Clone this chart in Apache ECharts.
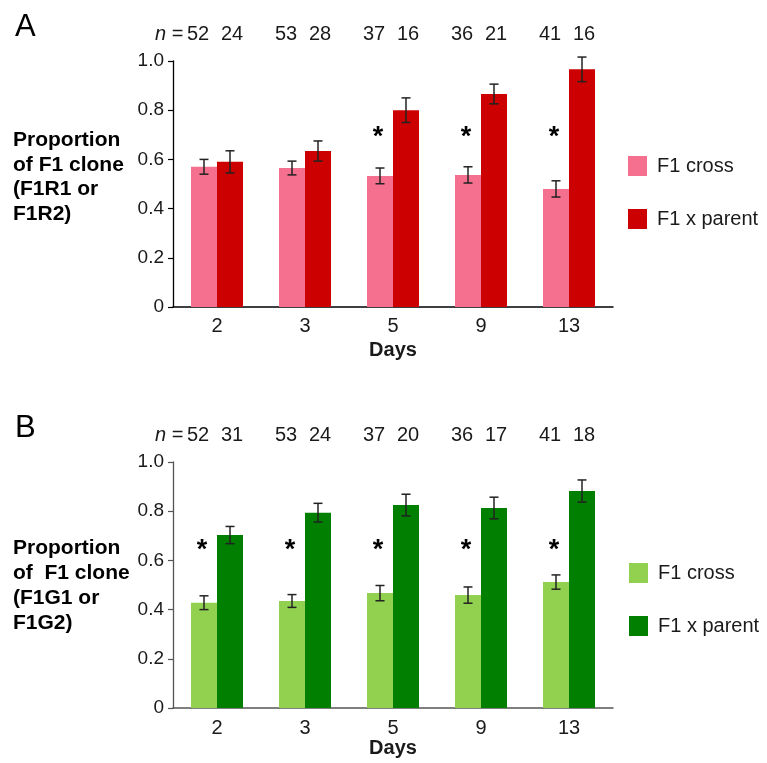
<!DOCTYPE html>
<html>
<head>
<meta charset="utf-8">
<script src="https://cdn.jsdelivr.net/npm/echarts@6/dist/echarts.min.js"></script>
<style>html,body{margin:0;padding:0;background:#fff;}#c{width:767px;height:763px;}</style>
</head>
<body>
<div id="c"></div>
<script>
// ---- data ----
const days = ['2', '3', '5', '9', '13'];
const yTickValues = [0, 0.2, 0.4, 0.6, 0.8, 1.0];

const crossA = [0.570, 0.565, 0.533, 0.537, 0.480];
const crossAErr = [0.030, 0.028, 0.032, 0.033, 0.033];
const parentA = [0.590, 0.634, 0.800, 0.866, 0.966];
const parentAErr = [0.045, 0.041, 0.050, 0.040, 0.050];
const nCrossA = [52, 53, 37, 36, 41];
const nParentA = [24, 28, 16, 21, 16];
const sigA = [0, 0, 1, 1, 1];

const crossB = [0.428, 0.435, 0.467, 0.459, 0.512];
const crossBErr = [0.028, 0.026, 0.031, 0.033, 0.029];
const parentB = [0.703, 0.794, 0.825, 0.813, 0.882];
const parentBErr = [0.035, 0.038, 0.044, 0.044, 0.045];
const nCrossB = [52, 53, 37, 36, 41];
const nParentB = [31, 24, 20, 17, 18];
const sigB = [1, 1, 1, 1, 1];

const starLevelA = 0.69;
const starLevelB = 0.64;

// ---- styling ----
const FONT = '"Liberation Sans", Arial, Helvetica, sans-serif';
const BAR_W = 26;
const TXT = '#1a1a1a';

function errRender(params, api) {
  const i = api.value(0), v = api.value(1), e = api.value(2), side = api.value(3);
  const top = api.coord([i, v + e]);
  const bot = api.coord([i, v - e]);
  const x = top[0] + side * BAR_W / 2;
  const cap = 4.5;
  const st = { stroke: '#222', lineWidth: 1.5 };
  return {
    type: 'group',
    children: [
      { type: 'line', shape: { x1: x, y1: top[1], x2: x, y2: bot[1] }, style: st },
      { type: 'line', shape: { x1: x - cap, y1: top[1], x2: x + cap, y2: top[1] }, style: st },
      { type: 'line', shape: { x1: x - cap, y1: bot[1], x2: x + cap, y2: bot[1] }, style: st }
    ]
  };
}

function nRender(params, api) {
  const i = api.value(0), n = api.value(2), side = api.value(3);
  const c = api.coord([i, 0]);
  return {
    type: 'text',
    x: c[0] + (side < 0 ? -19 : 15),
    y: params.coordSys.y - 27,
    style: { text: String(n), font: '20px ' + FONT, fill: TXT, align: 'center', verticalAlign: 'middle' }
  };
}

function starRender(params, api) {
  const i = api.value(0), lvl = api.value(1);
  const c = api.coord([i, lvl]);
  return {
    type: 'text',
    x: c[0] - BAR_W / 2 - 2,
    y: c[1],
    style: { text: '*', font: 'bold 27px ' + FONT, fill: '#000', align: 'center', verticalAlign: 'middle' }
  };
}

function errData(vals, errs, side) { return vals.map((v, i) => [i, v, errs[i], side]); }
function nData(ns, side) { return ns.map((n, i) => [i, 0, n, side]); }
function starData(sig, lvl) { return sig.map((s, i) => s ? [i, lvl] : null).filter(d => d); }

function xAxis(gridIndex, color, margin, nameGap) {
  return {
    gridIndex, type: 'category', data: days,
    axisLine: { lineStyle: { color, width: 1.5 } },
    axisTick: { show: false },
    axisLabel: { color: TXT, fontSize: 20, fontFamily: FONT, margin },
    name: 'Days', nameLocation: 'middle', nameGap,
    nameTextStyle: { color: TXT, fontSize: 20, fontWeight: 'bold', fontFamily: FONT }
  };
}
function yAxis(gridIndex, color) {
  return {
    gridIndex, type: 'value', min: 0, max: 1, interval: 0.2,
    axisLine: { show: true, lineStyle: { color, width: 1.3 } },
    axisTick: { show: true, length: 5, lineStyle: { color, width: 1.2 } },
    splitLine: { show: false },
    axisLabel: {
      color: TXT, fontSize: 19, fontFamily: FONT, margin: 9,
      formatter: v => (yTickValues.indexOf(+v.toFixed(1)) >= 0 ? (v === 0 ? '0' : v.toFixed(1)) : '')
    }
  };
}

const legendText = { color: TXT, fontSize: 20, fontFamily: FONT, padding: [0, 0, 0, 5] };

const option = {
  animation: false,
  backgroundColor: '#fff',
  grid: [
    { left: 173, top: 61, width: 440, height: 246 },
    { left: 173, top: 462, width: 440, height: 246 }
  ],
  xAxis: [xAxis(0, '#000', 9, 33), xAxis(1, '#555', 10, 28)],
  yAxis: [yAxis(0, '#000'), yAxis(1, '#555')],
  legend: [
    { data: ['A: F1 cross', 'A: F1 x parent'], orient: 'vertical', left: 623, top: 151, itemWidth: 19, itemHeight: 20,
      itemGap: 33, icon: 'rect', textStyle: legendText, formatter: n => n.slice(3), selectedMode: false },
    { data: ['B: F1 cross', 'B: F1 x parent'], orient: 'vertical', left: 624, top: 558, itemWidth: 19, itemHeight: 20,
      itemGap: 33, icon: 'rect', textStyle: legendText, formatter: n => n.slice(3), selectedMode: false }
  ],
  graphic: [
    { type: 'text', left: 15, top: 12, style: { text: 'A', font: '31px ' + FONT, fill: '#000' } },
    { type: 'text', left: 15, top: 413, style: { text: 'B', font: '31px ' + FONT, fill: '#000' } },
    { type: 'text', left: 13, top: 128, style: { text: 'Proportion\nof F1 clone\n(F1R1 or\nF1R2)', font: 'bold 21px ' + FONT, lineHeight: 24.5, fill: '#000' } },
    { type: 'text', left: 13, top: 536, style: { text: 'Proportion\nof  F1 clone\n(F1G1 or\nF1G2)', font: 'bold 21px ' + FONT, lineHeight: 25, fill: '#000' } },
    { type: 'text', left: 155, top: 24, style: { text: '{i|n} =', font: '20px ' + FONT, fill: TXT, rich: { i: { fontStyle: 'italic', fontSize: 20, fontFamily: FONT } } } },
    { type: 'text', left: 155, top: 425, style: { text: '{i|n} =', font: '20px ' + FONT, fill: TXT, rich: { i: { fontStyle: 'italic', fontSize: 20, fontFamily: FONT } } } }
  ],
  series: [
    { name: 'A: F1 cross', type: 'bar', xAxisIndex: 0, yAxisIndex: 0, data: crossA, barWidth: BAR_W, barGap: '0%', itemStyle: { color: '#F56F8E' } },
    { name: 'A: F1 x parent', type: 'bar', xAxisIndex: 0, yAxisIndex: 0, data: parentA, barWidth: BAR_W, barGap: '0%', itemStyle: { color: '#CC0000' } },
    { name: 'B: F1 cross', type: 'bar', xAxisIndex: 1, yAxisIndex: 1, data: crossB, barWidth: BAR_W, barGap: '0%', itemStyle: { color: '#92D050' } },
    { name: 'B: F1 x parent', type: 'bar', xAxisIndex: 1, yAxisIndex: 1, data: parentB, barWidth: BAR_W, barGap: '0%', itemStyle: { color: '#007F00' } },
    { type: 'custom', xAxisIndex: 0, yAxisIndex: 0, z: 5, renderItem: errRender, data: errData(crossA, crossAErr, -1).concat(errData(parentA, parentAErr, 1)) },
    { type: 'custom', xAxisIndex: 1, yAxisIndex: 1, z: 5, renderItem: errRender, data: errData(crossB, crossBErr, -1).concat(errData(parentB, parentBErr, 1)) },
    { type: 'custom', xAxisIndex: 0, yAxisIndex: 0, z: 5, renderItem: nRender, data: nData(nCrossA, -1).concat(nData(nParentA, 1)) },
    { type: 'custom', xAxisIndex: 1, yAxisIndex: 1, z: 5, renderItem: nRender, data: nData(nCrossB, -1).concat(nData(nParentB, 1)) },
    { type: 'custom', xAxisIndex: 0, yAxisIndex: 0, z: 5, renderItem: starRender, data: starData(sigA, starLevelA) },
    { type: 'custom', xAxisIndex: 1, yAxisIndex: 1, z: 5, renderItem: starRender, data: starData(sigB, starLevelB) }
  ]
};

const chart = echarts.init(document.getElementById('c'), null, { renderer: 'canvas' });
chart.setOption(option);
</script>
</body>
</html>
